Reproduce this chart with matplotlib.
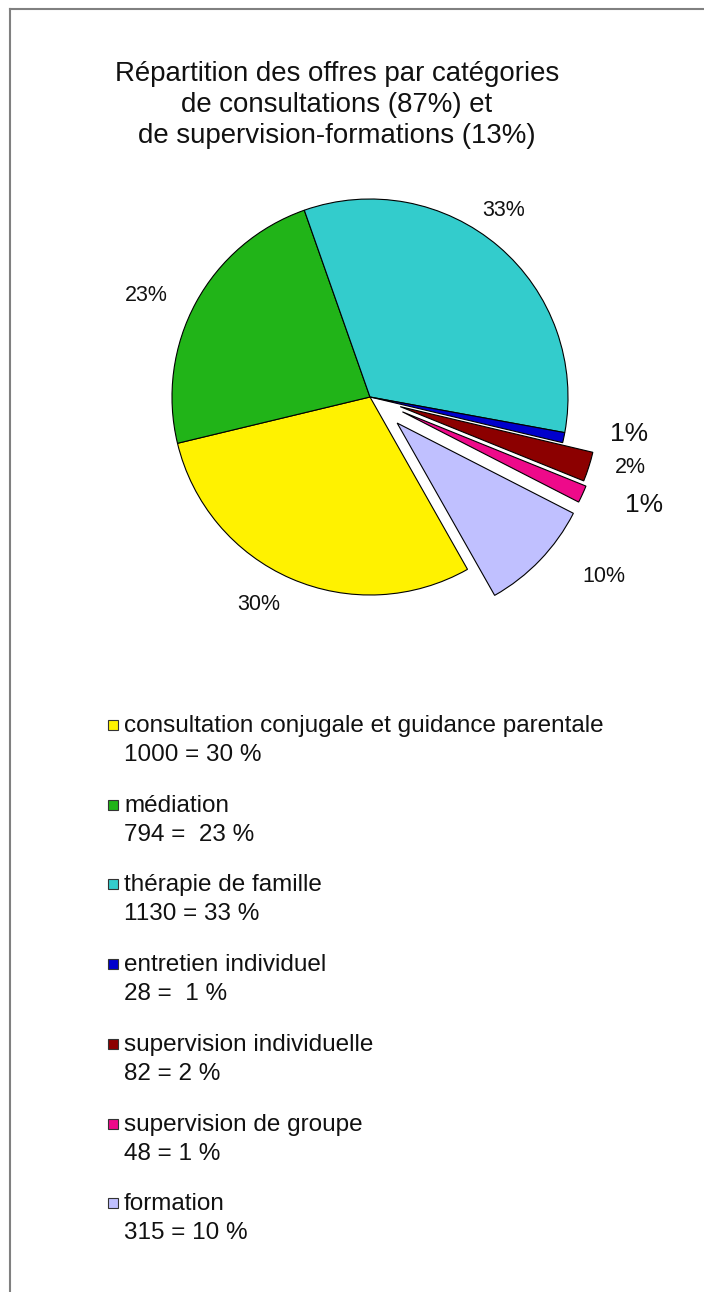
#!/usr/bin/env python3
"""
Répartition des offres - pie chart with exploded supervision/formation slices
"""

import numpy as np
import matplotlib
matplotlib.use('Agg')
import matplotlib.pyplot as plt
from matplotlib.patches import Rectangle

plt.rcParams['font.family'] = ['Liberation Sans', 'DejaVu Sans']

# Data
categories = ['consultation conjugale et guidance parentale', 'médiation',
              'thérapie de famille', 'entretien individuel',
              'supervision individuelle', 'supervision de groupe', 'formation']
values = [1000, 794, 1130, 28, 82, 48, 315]
pct_labels = [30, 23, 33, 1, 2, 1, 10]
value_texts = ['1000 = 30 %', '794 =  23 %', '1130 = 33 %', '28 =  1 %',
               '82 = 2 %', '48 = 1 %', '315 = 10 %']

colors = ['#FFF200', '#21B418', '#33CCCC', '#0000CC', '#8C0000', '#EE0A8A', '#C0C0FF']
explode = [0, 0, 0, 0, 0.16, 0.18, 0.19]

# label placement (angle tweak in degrees, distance in radii, font size)
label_dang = [-4.8, 4.1, 4.8, 3.8, 2.6, 3.1, 6.4]
label_dist = [1.19, 1.24, 1.16, 1.32, 1.36, 1.49, 1.49]
label_size = [15.5, 15.5, 15.5, 19, 15.5, 19, 15.5]

W, H = 704, 1292
CX, CY, R = 370, 397, 198  # pie centre and radius in pixels
S = 330  # half size of pie axes in pixels


def main():
    fig = plt.figure(figsize=(W / 100, H / 100), dpi=100)

    # overlay in pixel coordinates for frame, title and legend
    over = fig.add_axes([0, 0, 1, 1])
    over.set_xlim(0, W)
    over.set_ylim(H, 0)
    over.axis('off')
    over.plot([10, 10], [H + 5, 9], color='#808080', lw=1.5, clip_on=False)
    over.plot([10, W + 5], [9, 9], color='#808080', lw=1.5, clip_on=False)

    over.text(337, 105, 'Répartition des offres par catégories\n'
              'de consultations (87%) et\nde supervision-formations (13%)',
              ha='center', va='center', fontsize=19.9, linespacing=1.26,
              color='#111111')

    # pie
    ax = fig.add_axes([(CX - S) / W, (H - CY - S) / H, 2 * S / W, 2 * S / H])
    wedges, _ = ax.pie(values, colors=colors, explode=explode, startangle=299.5,
                       counterclock=False, radius=1,
                       wedgeprops=dict(edgecolor='black', linewidth=0.8))
    ax.set_xlim(-S / R, S / R)
    ax.set_ylim(-S / R, S / R)
    ax.set_aspect('equal')
    ax.axis('off')

    for w, p, da, d, fs in zip(wedges, pct_labels, label_dang, label_dist, label_size):
        mid = np.deg2rad((w.theta1 + w.theta2) / 2 + da)
        ax.text(d * np.cos(mid), d * np.sin(mid), f'{p}%', ha='center', va='center',
                fontsize=fs, color='#111111')

    # legend drawn by hand so the swatch sits on the first line
    for i, (name, txt, c) in enumerate(zip(categories, value_texts, colors)):
        base = 732 + i * 79.7
        over.add_patch(Rectangle((108, base - 12), 10, 10, facecolor=c,
                                 edgecolor='#333333', lw=0.8))
        over.text(124, base, name, va='baseline', ha='left', fontsize=17.5,
                  color='#111111')
        over.text(124, base + 29, txt, va='baseline', ha='left', fontsize=17.5,
                  color='#111111')

    fig.savefig('out.png', dpi=100)


if __name__ == '__main__':
    main()
